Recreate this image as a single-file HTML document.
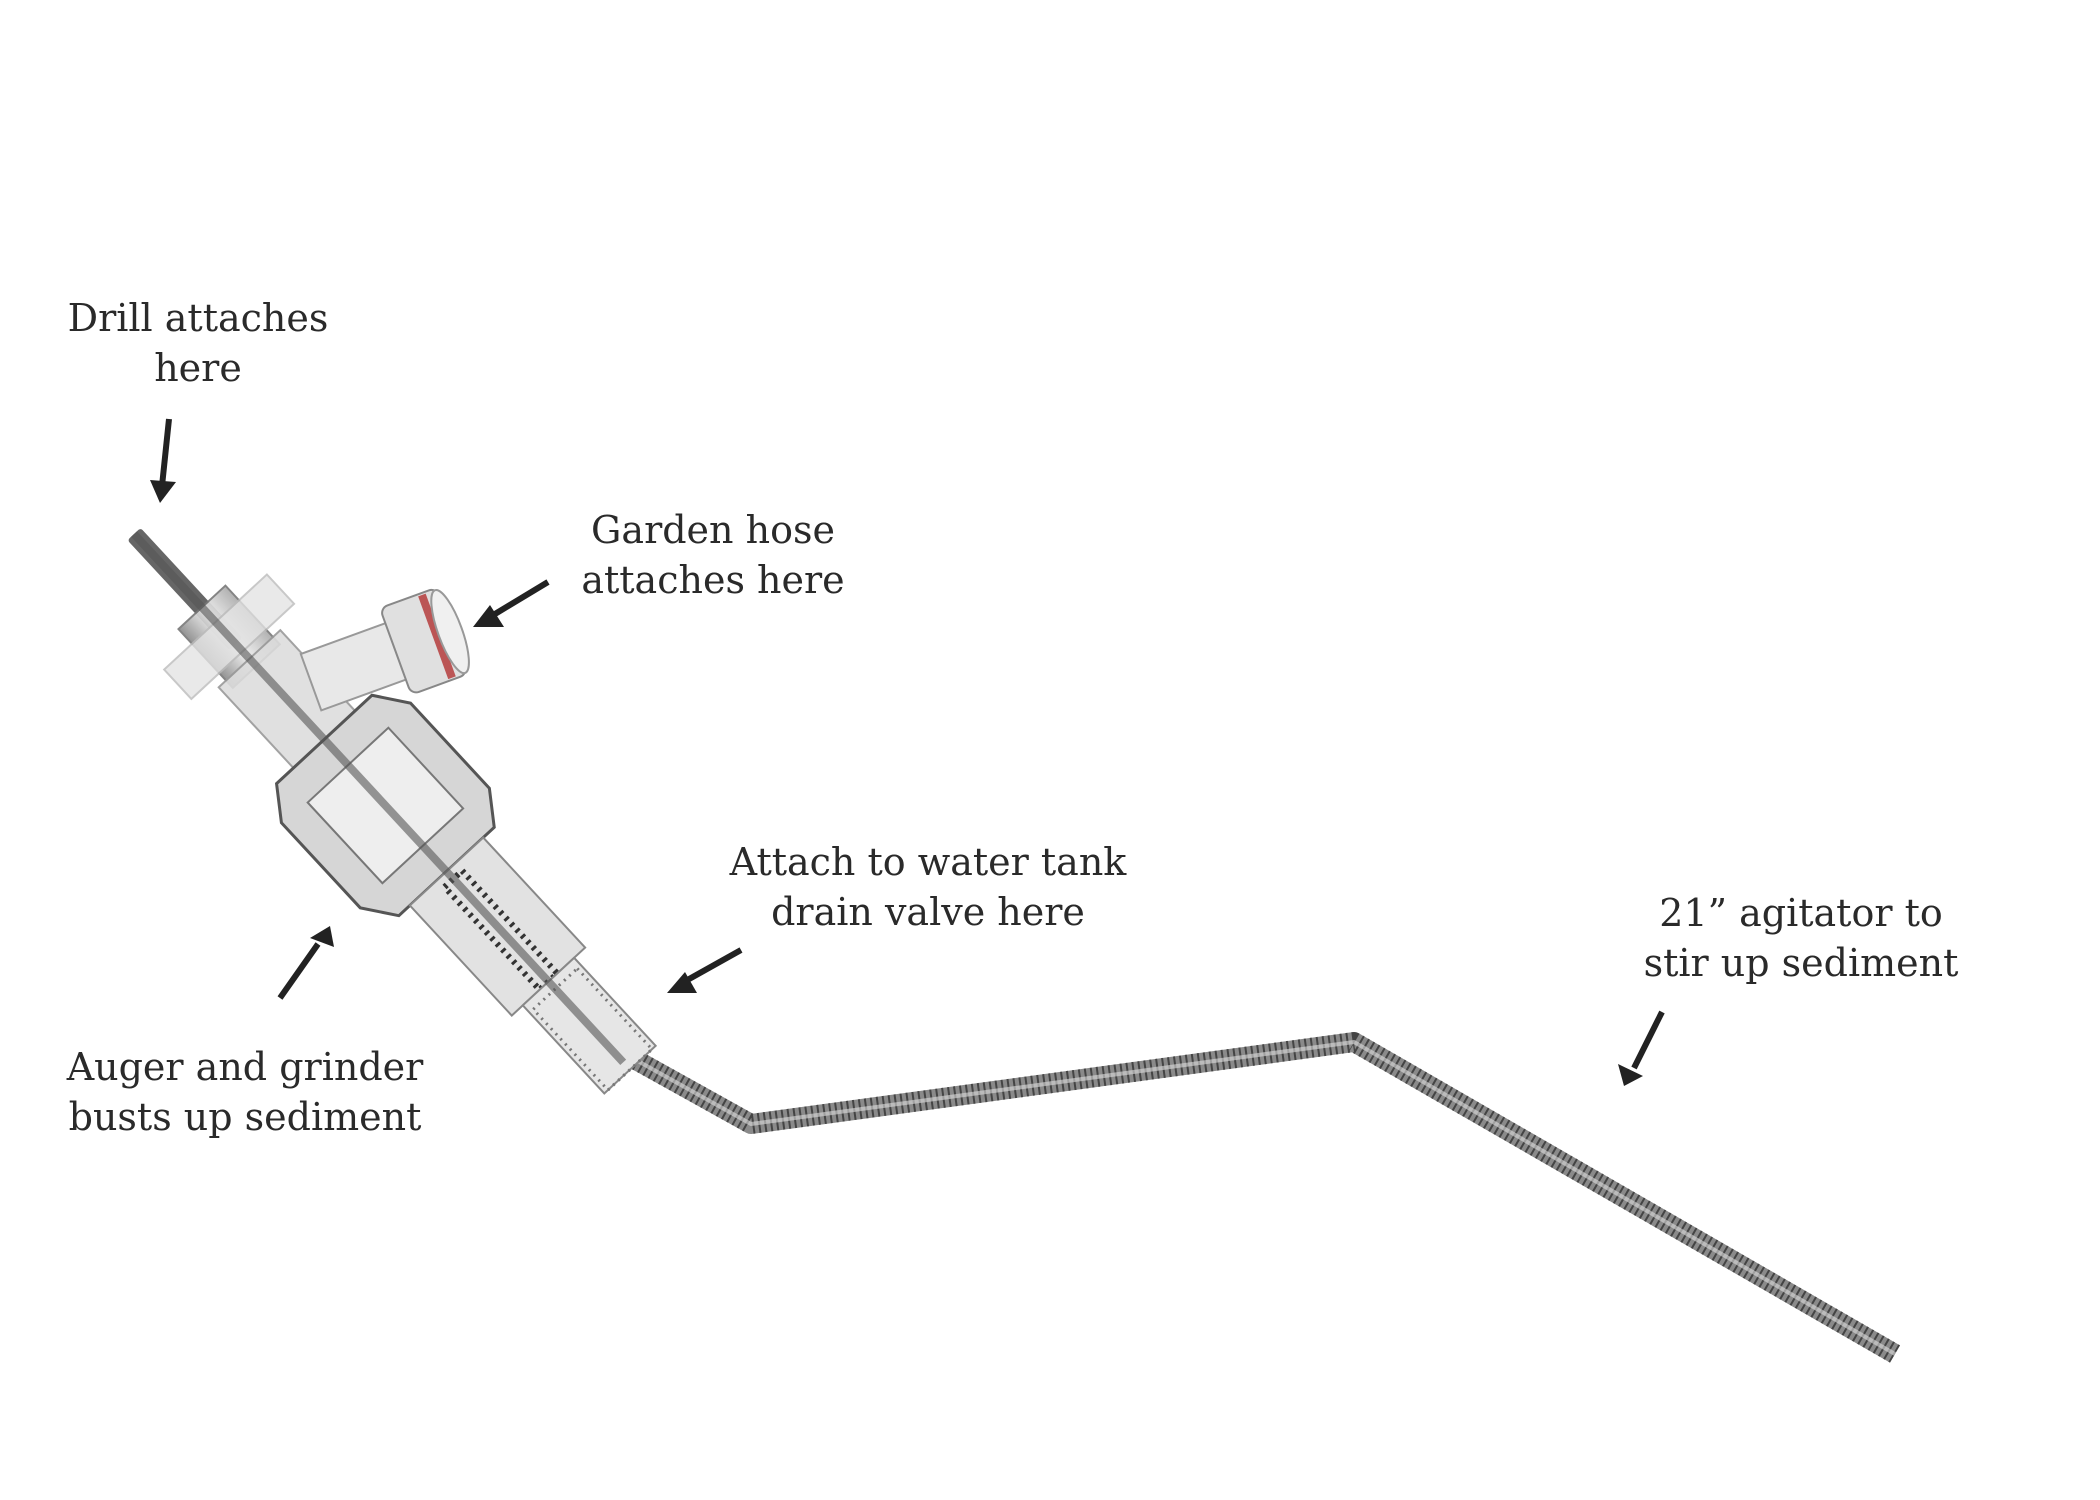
<!DOCTYPE html>
<html><head><meta charset="utf-8"><style>
html,body{margin:0;padding:0;background:#fff;}
body{width:2100px;height:1500px;position:relative;overflow:hidden;font-family:"DejaVu Serif","Liberation Serif",serif;}
.t{position:absolute;text-align:center;font-size:38px;line-height:50px;color:#2a2a2a;white-space:nowrap;transform:translateX(-50%);}
svg{position:absolute;left:0;top:0;}
</style></head><body>
<svg width="2100" height="1500" viewBox="0 0 2100 1500">
<defs>
<linearGradient id="g" x1="0" y1="0" x2="0" y2="1"><stop offset="0" stop-color="#aaa"/><stop offset="0.5" stop-color="#eee"/><stop offset="1" stop-color="#888"/></linearGradient>
</defs>
<polyline points="600,1040 751,1124 1354,1042 1895,1354" fill="none" stroke="#8a8a8a" stroke-width="20" stroke-linejoin="round"/>
<polyline points="600,1040 751,1124 1354,1042 1895,1354" fill="none" stroke="#444" stroke-width="20" stroke-dasharray="2 4" stroke-linejoin="round"/>
<polyline points="600,1040 751,1124 1354,1042 1895,1354" fill="none" stroke="#ddd" stroke-width="4" stroke-linejoin="round" opacity="0.6"/>
<g transform="translate(134,534) rotate(47.2)">
<rect x="0" y="-9" width="150" height="18" fill="#666" rx="3"/>
<rect x="100" y="-32" width="80" height="64" fill="url(#g)" stroke="#777" stroke-width="2" opacity="0.9"/>
<rect x="120" y="-70" width="40" height="140" fill="#e4e4e4" stroke="#bbb" stroke-width="2" opacity="0.8"/>
<rect x="170" y="-42" width="120" height="84" fill="#ddd" stroke="#999" stroke-width="2" opacity="0.9"/>
<polygon points="280,-65 312,-88 428,-88 460,-65 460,65 428,88 312,88 280,65" fill="#d6d6d6" stroke="#555" stroke-width="3"/>
<rect x="315" y="-55" width="110" height="110" fill="#eee" stroke="#777" stroke-width="2"/>
<rect x="460" y="-50" width="150" height="100" fill="#e2e2e2" stroke="#888" stroke-width="2"/>
<rect x="470" y="-12" width="140" height="24" fill="none" stroke="#333" stroke-width="6" stroke-dasharray="3 5"/>
<rect x="610" y="-35" width="120" height="70" fill="#e6e6e6" stroke="#888" stroke-width="2"/>
<rect x="620" y="-30" width="110" height="60" fill="none" stroke="#777" stroke-width="3" stroke-dasharray="2 5"/>
<rect x="0" y="-4" width="720" height="8" fill="#555" opacity="0.6"/>
</g>
<g transform="translate(405,648) rotate(-20)">
<rect x="-100" y="-30" width="100" height="60" fill="#e8e8e8" stroke="#999" stroke-width="2"/>
<rect x="-10" y="-46" width="60" height="92" rx="8" fill="#e0e0e0" stroke="#888" stroke-width="2"/>
<rect x="30" y="-44" width="8" height="88" fill="#b55"/>
<ellipse cx="48" cy="0" rx="12" ry="44" fill="#f0f0f0" stroke="#999" stroke-width="2"/>
</g>
<g stroke="#222" stroke-width="6" fill="none">
<line x1="169" y1="419" x2="162" y2="486"/>
<line x1="548" y1="582" x2="490" y2="617"/>
<line x1="741" y1="950" x2="682" y2="983"/>
<line x1="1662" y1="1012" x2="1634" y2="1068"/>
<line x1="280" y1="998" x2="318" y2="944"/>
</g>
<g fill="#222">
<polygon points="150,480 176,482 160,503"/>
<polygon points="490,605 504,627 473,627"/>
<polygon points="685,972 697,993 667,993"/>
<polygon points="1618,1064 1643,1076 1624,1086"/>
<polygon points="310,938 334,947 330,926"/>
</g>
</svg>
<div class="t" style="left:198px;top:293px;">Drill attaches<br>here</div>
<div class="t" style="left:713px;top:505px;">Garden hose<br>attaches here</div>
<div class="t" style="left:928px;top:837px;">Attach to water tank<br>drain valve here</div>
<div class="t" style="left:1801px;top:888px;">21” agitator to<br>stir up sediment</div>
<div class="t" style="left:245px;top:1042px;">Auger and grinder<br>busts up sediment</div>
</body></html>
